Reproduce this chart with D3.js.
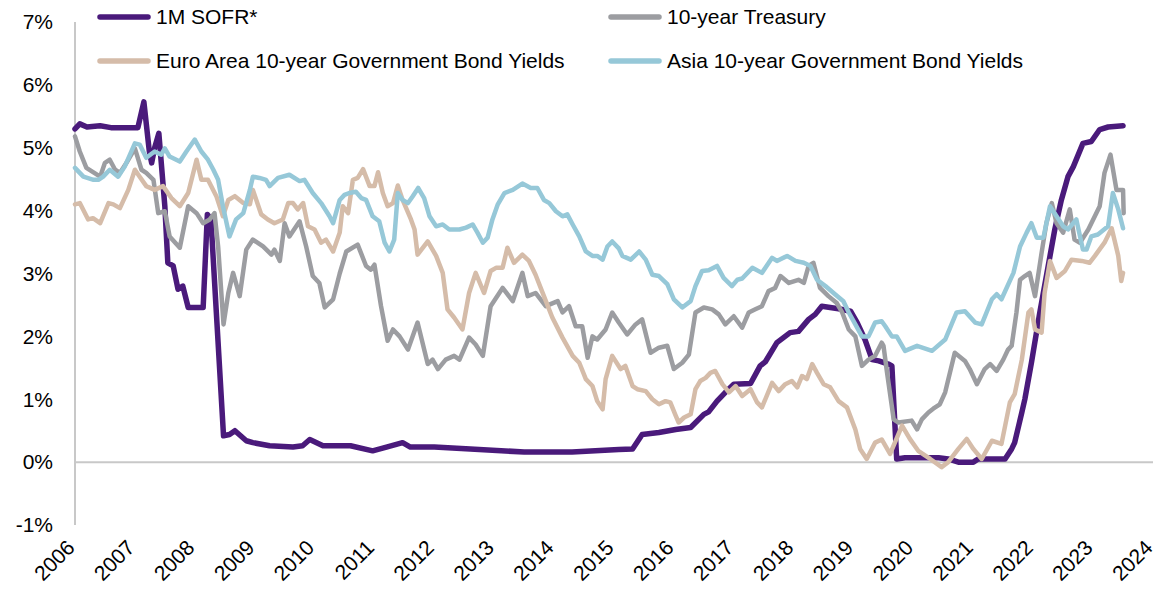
<!DOCTYPE html>
<html><head><meta charset="utf-8">
<script src="https://cdn.jsdelivr.net/npm/d3@7"></script>
<style>
body{margin:0;background:#fff;}
svg{display:block;font-family:"Liberation Sans",Arial,sans-serif;}
</style></head>
<body><svg id="c" width="1158" height="597"></svg>
<script>
const seriesNames = ["1M SOFR*","10-year Treasury","Euro Area 10-year Government Bond Yields","Asia 10-year Government Bond Yields"];
const seriesColors = ["#4a1a7b","#9c9da1","#d5bca9","#96c8d8"];
const yTicks = [-1,0,1,2,3,4,5,6,7];
const xTicks = [2006,2007,2008,2009,2010,2011,2012,2013,2014,2015,2016,2017,2018,2019,2020,2021,2022,2023,2024];

const sofr = [[2006.0,5.30],[2006.08,5.38],[2006.2,5.33],[2006.42,5.35],[2006.6,5.32],[2007.05,5.32],[2007.15,5.73],[2007.24,4.95],[2007.28,4.76],[2007.33,5.0],[2007.4,5.23],[2007.5,4.07],[2007.55,3.17],[2007.64,3.12],[2007.72,2.75],[2007.8,2.80],[2007.89,2.46],[2008.14,2.46],[2008.21,3.94],[2008.27,3.86],[2008.36,2.38],[2008.48,0.42],[2008.58,0.44],[2008.67,0.50],[2008.86,0.34],[2008.97,0.31],[2009.25,0.26],[2009.64,0.24],[2009.8,0.26],[2009.92,0.36],[2010.14,0.26],[2010.6,0.26],[2010.97,0.18],[2011.2,0.24],[2011.47,0.31],[2011.6,0.24],[2012.0,0.24],[2012.6,0.21],[2013.5,0.16],[2014.3,0.16],[2015.08,0.20],[2015.31,0.21],[2015.47,0.44],[2015.75,0.47],[2016.03,0.52],[2016.28,0.55],[2016.5,0.76],[2016.58,0.80],[2016.72,0.97],[2016.86,1.11],[2017.0,1.24],[2017.28,1.25],[2017.44,1.53],[2017.53,1.60],[2017.72,1.90],[2017.94,2.06],[2018.08,2.08],[2018.25,2.27],[2018.36,2.35],[2018.47,2.48],[2018.61,2.46],[2018.75,2.44],[2018.95,2.40],[2019.06,2.22],[2019.19,1.95],[2019.31,1.63],[2019.42,1.61],[2019.58,1.56],[2019.64,1.53],[2019.72,0.05],[2019.86,0.07],[2020.42,0.07],[2020.58,0.05],[2020.75,0.0],[2021.0,0.0],[2021.08,0.05],[2021.53,0.05],[2021.64,0.21],[2021.69,0.31],[2021.81,0.79],[2021.86,1.0],[2021.97,1.58],[2022.11,2.38],[2022.25,3.12],[2022.36,3.70],[2022.47,4.17],[2022.58,4.54],[2022.67,4.70],[2022.83,5.07],[2022.97,5.10],[2023.11,5.29],[2023.25,5.33],[2023.5,5.35]];

const treasury = [[2006.0,5.18],[2006.08,4.94],[2006.19,4.68],[2006.42,4.54],[2006.5,4.76],[2006.58,4.81],[2006.67,4.65],[2006.75,4.60],[2006.86,4.76],[2007.0,4.99],[2007.11,4.65],[2007.19,4.60],[2007.31,4.49],[2007.39,3.96],[2007.5,3.99],[2007.58,3.59],[2007.75,3.41],[2007.89,4.07],[2008.03,3.96],[2008.14,3.80],[2008.25,3.86],[2008.33,3.96],[2008.39,3.43],[2008.48,2.19],[2008.56,2.69],[2008.64,3.01],[2008.75,2.64],[2008.86,3.38],[2008.97,3.54],[2009.14,3.43],[2009.28,3.30],[2009.33,3.38],[2009.42,3.20],[2009.5,3.80],[2009.58,3.59],[2009.75,3.83],[2009.86,3.43],[2009.97,2.96],[2010.08,2.85],[2010.17,2.46],[2010.31,2.59],[2010.42,3.0],[2010.53,3.35],[2010.72,3.46],[2010.86,3.12],[2010.94,3.06],[2011.0,3.14],[2011.11,2.48],[2011.22,1.93],[2011.31,2.11],[2011.42,2.0],[2011.56,1.79],[2011.72,2.22],[2011.89,1.56],[2011.97,1.63],[2012.06,1.48],[2012.19,1.63],[2012.33,1.69],[2012.42,1.63],[2012.58,1.98],[2012.69,1.87],[2012.81,1.69],[2012.94,2.48],[2013.14,2.77],[2013.31,2.56],[2013.47,3.01],[2013.56,2.64],[2013.69,2.69],[2013.86,2.48],[2014.06,2.56],[2014.14,2.38],[2014.25,2.48],[2014.36,2.16],[2014.47,2.16],[2014.56,1.66],[2014.64,2.0],[2014.72,1.95],[2014.86,2.11],[2014.97,2.38],[2015.08,2.22],[2015.22,2.03],[2015.36,2.19],[2015.47,2.27],[2015.61,1.74],[2015.75,1.82],[2015.89,1.85],[2016.0,1.48],[2016.14,1.58],[2016.25,1.71],[2016.36,2.38],[2016.5,2.46],[2016.64,2.43],[2016.75,2.35],[2016.86,2.19],[2017.0,2.32],[2017.14,2.14],[2017.25,2.38],[2017.36,2.43],[2017.47,2.48],[2017.58,2.72],[2017.69,2.77],[2017.78,2.96],[2017.92,2.85],[2018.08,2.90],[2018.17,2.85],[2018.25,3.12],[2018.33,3.17],[2018.44,2.77],[2018.58,2.64],[2018.72,2.53],[2018.81,2.38],[2018.92,2.11],[2019.03,2.0],[2019.14,1.53],[2019.25,1.63],[2019.36,1.69],[2019.47,1.90],[2019.5,1.85],[2019.56,1.42],[2019.67,0.68],[2019.75,0.63],[2019.97,0.66],[2020.06,0.52],[2020.14,0.68],[2020.25,0.79],[2020.33,0.85],[2020.44,0.92],[2020.53,1.11],[2020.69,1.74],[2020.86,1.61],[2020.94,1.48],[2021.06,1.24],[2021.19,1.48],[2021.28,1.56],[2021.39,1.45],[2021.5,1.63],[2021.58,1.79],[2021.64,1.85],[2021.72,2.38],[2021.78,2.90],[2021.86,2.96],[2021.94,3.01],[2022.03,2.64],[2022.14,3.33],[2022.22,3.80],[2022.31,4.12],[2022.39,3.80],[2022.5,3.65],[2022.61,4.02],[2022.69,3.54],[2022.78,3.49],[2022.92,3.70],[2023.11,4.07],[2023.19,4.60],[2023.29,4.89],[2023.39,4.33],[2023.5,4.33],[2023.51,3.96]];

const euro = [[2006.0,4.10],[2006.08,4.12],[2006.22,3.86],[2006.3,3.88],[2006.42,3.80],[2006.56,4.12],[2006.64,4.10],[2006.75,4.04],[2006.89,4.33],[2007.0,4.65],[2007.08,4.54],[2007.19,4.39],[2007.33,4.33],[2007.47,4.39],[2007.61,4.20],[2007.75,4.07],[2007.89,4.28],[2008.03,4.81],[2008.11,4.49],[2008.22,4.49],[2008.36,4.23],[2008.47,3.91],[2008.56,4.17],[2008.67,4.23],[2008.81,4.12],[2008.92,4.10],[2008.97,4.33],[2009.11,3.94],[2009.22,3.86],[2009.33,3.80],[2009.47,3.86],[2009.56,4.12],[2009.64,4.12],[2009.72,4.02],[2009.81,4.12],[2009.89,3.75],[2010.0,3.70],[2010.11,3.49],[2010.19,3.54],[2010.31,3.35],[2010.42,3.65],[2010.47,4.07],[2010.56,3.96],[2010.64,4.49],[2010.72,4.52],[2010.81,4.66],[2010.92,4.39],[2011.0,4.39],[2011.06,4.61],[2011.14,4.28],[2011.22,4.07],[2011.31,4.12],[2011.39,4.40],[2011.47,4.17],[2011.61,3.86],[2011.67,3.70],[2011.72,3.30],[2011.89,3.51],[2012.03,3.28],[2012.14,3.01],[2012.22,2.43],[2012.33,2.30],[2012.47,2.11],[2012.58,2.69],[2012.69,3.01],[2012.83,2.69],[2012.94,3.04],[2013.03,3.09],[2013.14,3.09],[2013.22,3.41],[2013.33,3.17],[2013.47,3.30],[2013.58,3.20],[2013.69,2.98],[2013.83,2.64],[2013.97,2.30],[2014.14,1.98],[2014.31,1.69],[2014.42,1.58],[2014.53,1.32],[2014.64,1.21],[2014.72,0.97],[2014.81,0.84],[2014.86,1.32],[2014.97,1.69],[2015.11,1.48],[2015.19,1.53],[2015.31,1.21],[2015.39,1.16],[2015.53,1.13],[2015.64,1.0],[2015.75,0.92],[2015.86,0.97],[2015.94,0.95],[2016.03,0.74],[2016.08,0.63],[2016.17,0.71],[2016.28,0.76],[2016.36,1.16],[2016.44,1.29],[2016.53,1.34],[2016.61,1.42],[2016.69,1.45],[2016.81,1.24],[2016.92,1.11],[2017.03,1.21],[2017.14,1.05],[2017.28,1.16],[2017.39,0.95],[2017.47,0.87],[2017.64,1.26],[2017.75,1.13],[2017.86,1.24],[2017.97,1.29],[2018.06,1.19],[2018.14,1.37],[2018.22,1.32],[2018.31,1.56],[2018.39,1.42],[2018.5,1.24],[2018.61,1.19],[2018.75,0.97],[2018.89,0.87],[2019.03,0.52],[2019.11,0.21],[2019.22,0.05],[2019.36,0.31],[2019.47,0.36],[2019.61,0.13],[2019.81,0.58],[2019.94,0.37],[2020.08,0.18],[2020.28,0.05],[2020.47,-0.08],[2020.58,0.0],[2020.75,0.21],[2020.89,0.37],[2021.0,0.21],[2021.14,0.05],[2021.31,0.34],[2021.47,0.29],[2021.61,0.95],[2021.69,1.08],[2021.81,1.63],[2021.92,2.38],[2021.97,2.43],[2022.03,2.11],[2022.14,2.06],[2022.19,2.69],[2022.28,3.20],[2022.39,2.93],[2022.53,3.04],[2022.64,3.22],[2022.81,3.20],[2022.94,3.17],[2023.03,3.28],[2023.19,3.49],[2023.31,3.72],[2023.42,3.28],[2023.47,2.88],[2023.5,3.01]];

const asia = [[2006.0,4.68],[2006.14,4.54],[2006.31,4.49],[2006.39,4.49],[2006.47,4.54],[2006.58,4.65],[2006.72,4.54],[2006.83,4.70],[2007.0,5.07],[2007.08,5.05],[2007.19,4.84],[2007.33,4.94],[2007.44,4.89],[2007.5,4.99],[2007.58,4.86],[2007.75,4.78],[2007.86,4.94],[2008.0,5.13],[2008.11,4.94],[2008.22,4.81],[2008.31,4.65],[2008.39,4.49],[2008.47,4.07],[2008.58,3.59],[2008.69,3.86],[2008.81,3.96],[2008.92,4.33],[2008.97,4.54],[2009.08,4.52],[2009.19,4.49],[2009.25,4.39],[2009.39,4.52],[2009.58,4.57],[2009.75,4.47],[2009.83,4.49],[2009.97,4.28],[2010.11,4.12],[2010.25,3.91],[2010.31,3.80],[2010.42,4.17],[2010.5,4.25],[2010.58,4.28],[2010.69,4.30],[2010.78,4.20],[2010.86,4.17],[2010.97,3.91],[2011.08,3.83],[2011.17,3.49],[2011.25,3.35],[2011.33,3.54],[2011.39,4.28],[2011.47,4.17],[2011.56,4.12],[2011.64,4.23],[2011.73,4.36],[2011.83,4.20],[2011.92,3.91],[2012.03,3.75],[2012.14,3.78],[2012.25,3.70],[2012.42,3.70],[2012.53,3.73],[2012.64,3.78],[2012.72,3.65],[2012.81,3.49],[2012.89,3.57],[2012.97,3.86],[2013.06,4.10],[2013.17,4.28],[2013.31,4.33],[2013.47,4.43],[2013.61,4.36],[2013.72,4.36],[2013.83,4.17],[2013.92,4.12],[2014.03,3.99],[2014.14,3.91],[2014.22,3.94],[2014.31,3.78],[2014.42,3.59],[2014.53,3.35],[2014.64,3.28],[2014.72,3.28],[2014.81,3.22],[2014.89,3.43],[2014.97,3.51],[2015.08,3.40],[2015.14,3.28],[2015.28,3.22],[2015.42,3.35],[2015.53,3.22],[2015.64,2.98],[2015.75,2.96],[2015.89,2.83],[2016.0,2.59],[2016.14,2.46],[2016.28,2.56],[2016.36,2.80],[2016.47,3.04],[2016.58,3.05],[2016.72,3.12],[2016.83,2.93],[2016.97,2.80],[2017.06,2.90],[2017.14,2.92],[2017.31,3.09],[2017.47,3.01],[2017.64,3.25],[2017.72,3.20],[2017.89,3.28],[2018.03,3.20],[2018.17,3.17],[2018.28,3.12],[2018.39,2.90],[2018.53,2.80],[2018.69,2.67],[2018.83,2.56],[2018.92,2.38],[2019.03,2.19],[2019.14,2.0],[2019.25,2.0],[2019.36,2.22],[2019.47,2.24],[2019.53,2.16],[2019.64,2.0],[2019.72,2.0],[2019.86,1.77],[2020.06,1.85],[2020.31,1.77],[2020.53,1.95],[2020.72,2.38],[2020.86,2.40],[2021.03,2.22],[2021.14,2.19],[2021.31,2.59],[2021.39,2.67],[2021.47,2.59],[2021.67,3.01],[2021.78,3.43],[2021.89,3.65],[2021.97,3.80],[2022.06,3.57],[2022.17,3.57],[2022.28,4.07],[2022.39,3.91],[2022.5,3.75],[2022.58,3.70],[2022.72,3.86],[2022.83,3.38],[2022.89,3.38],[2022.97,3.59],[2023.08,3.62],[2023.25,3.75],[2023.33,4.28],[2023.42,4.02],[2023.5,3.72]];

const seriesData = [sofr, treasury, euro, asia];
const seriesWidths = [5.5, 4.5, 4.5, 4.5];

const svg = d3.select("#c");
const x = d3.scaleLinear().domain([2006, 2024]).range([75, 1153]);
const y = d3.scaleLinear().domain([-1, 7]).range([525, 22]);

// y axis line
svg.append("line").attr("x1", x(2006)).attr("x2", x(2006)).attr("y1", y(7)).attr("y2", y(-1))
  .attr("stroke", "#c8c8c8").attr("stroke-width", 2);
// zero line
svg.append("line").attr("x1", x(2006)).attr("x2", x(2024)).attr("y1", y(0)).attr("y2", y(0))
  .attr("stroke", "#c8c8c8").attr("stroke-width", 2);

// y tick labels
svg.append("g").selectAll("text").data(yTicks).join("text")
  .attr("x", 53).attr("y", d => y(d)).attr("dy", "0.35em")
  .attr("text-anchor", "end").attr("font-size", 21).attr("fill", "#000")
  .text(d => d + "%");

// x tick labels
svg.append("g").selectAll("text").data(xTicks).join("text")
  .attr("transform", d => `translate(${x(d) + 1},${y(-1) + 24}) rotate(-45)`)
  .attr("text-anchor", "end").attr("font-size", 21).attr("fill", "#000")
  .text(d => d);

// lines
const line = d3.line().x(d => x(d[0])).y(d => y(d[1]));
seriesData.forEach((s, i) => {
  svg.append("path").datum(s).attr("d", line)
    .attr("fill", "none").attr("stroke", seriesColors[i]).attr("stroke-width", seriesWidths[i])
    .attr("stroke-linejoin", "round").attr("stroke-linecap", "round");
});

// legend
const legPos = [[100, 17], [611, 17], [100, 61], [611, 61]];
seriesNames.forEach((n, i) => {
  const [lx, ly] = legPos[i];
  svg.append("line").attr("x1", lx).attr("x2", lx + 48).attr("y1", ly).attr("y2", ly)
    .attr("stroke", seriesColors[i]).attr("stroke-width", 5.5).attr("stroke-linecap", "round");
  svg.append("text").attr("x", lx + 56).attr("y", ly).attr("dy", "0.35em")
    .attr("font-size", 21).attr("fill", "#000").text(n);
});
</script>
</body></html>
